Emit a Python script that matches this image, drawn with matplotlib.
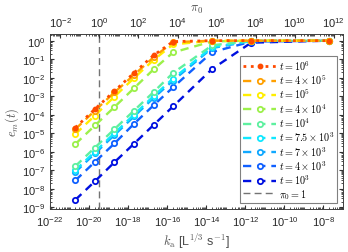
import numpy as np
import matplotlib
matplotlib.use('Agg')
import matplotlib.pyplot as plt
import matplotlib.ticker as ticker

plt.rcParams['font.family'] = ['Liberation Sans', 'DejaVu Sans']
plt.rcParams['mathtext.fontset'] = 'custom'
plt.rcParams['mathtext.rm'] = 'Liberation Sans'
plt.rcParams['mathtext.it'] = 'Liberation Sans:italic'

# ka values (L^1/3 s^-1)
ka = [2e-21, 2e-20, 2e-19, 2e-18, 2e-17, 2e-16, 2e-14, 2e-12, 2e-8]
# conversion factor pi0 = ka * C
C = 10 ** 19.47

labels = [r'$t = 10^6$', r'$t = 4 \times 10^5$', r'$t = 10^5$', r'$t = 4 \times 10^4$',
          r'$t = 10^4$', r'$t = 7.5 \times 10^3$', r'$t = 7 \times 10^3$',
          r'$t = 4 \times 10^3$', r'$t = 10^3$']
colors = ['#ff4a00', '#ffa000', '#ffee00', '#9cf04a', '#5ef0a0', '#10e8ff',
          '#10a8ff', '#1060ff', '#0010e0']

em_1e6 = [2.0e-5, 2.0e-4, 1.9e-3, 1.8e-2, 0.16, 0.89, 1.0, 1.0, 1.0]
em_4e5 = [1.66e-5, 1.66e-4, 1.6e-3, 1.4e-2, 0.126, 0.83, 1.0, 1.0, 1.0]
em_1e5 = [9e-6, 9e-5, 9.5e-4, 9.5e-3, 0.09, 0.63, 0.98, 1.0, 1.0]
em_4e4 = [2.6e-6, 2.6e-5, 2.6e-4, 2.7e-3, 2.8e-2, 0.23, 0.91, 1.0, 1.0]
em_1e4 = [1.66e-7, 1.66e-6, 1.66e-5, 1.66e-4, 1.66e-3, 1.8e-2, 0.56, 0.98, 1.0]
em_75e3 = [1e-7, 1e-6, 1e-5, 1e-4, 1e-3, 8.9e-3, 0.45, 0.98, 1.0]
em_7e3 = [8e-8, 8e-7, 8e-6, 8e-5, 8e-4, 7e-3, 0.4, 0.95, 1.0]
em_4e3 = [2.8e-8, 2.8e-7, 2.8e-6, 3.2e-5, 3.2e-4, 3e-3, 0.24, 0.89, 1.0]
em_1e3 = [2.5e-9, 2.5e-8, 2.7e-7, 2.7e-6, 2.75e-5, 2.8e-4, 2.95e-2, 0.78, 1.0]

series = [em_1e6, em_4e5, em_1e5, em_4e4, em_1e4, em_75e3, em_7e3, em_4e3, em_1e3]

fig = plt.figure(figsize=(3.48, 2.53), dpi=100)
ax = fig.add_axes([50 / 348, 1 - 210 / 253, 293 / 348, 175 / 253])

handles = []
for i in range(len(series) - 1, -1, -1):
    if i == 0:
        h, = ax.plot(ka, series[i], linestyle=':', color=colors[i], lw=2.0,
                     marker='o', ms=3.2, mfc=colors[i], mec=colors[i], zorder=10)
    else:
        h, = ax.plot(ka, series[i], linestyle=(0, (3.5, 2.5)), color=colors[i], lw=1.7,
                     marker='o', ms=3.8, mfc='white', mec=colors[i], mew=1.3,
                     zorder=2 + len(series) - i)
    handles.insert(0, h)

vl = ax.axvline(1 / C, color='0.45', lw=1.0, linestyle=(0, (5, 3)), zorder=1)
handles.append(vl)

ax.set_xscale('log')
ax.set_yscale('log')
ax.set_xlim(1e-22, 1e-7)
ax.set_ylim(10 ** -9.1, 10 ** 0.36)
ax.set_xticks([10.0 ** k for k in range(-22, -7, 2)])
ax.set_yticks([10.0 ** k for k in range(-9, 1)])
ax.xaxis.set_minor_locator(ticker.LogLocator(base=10, subs=np.arange(1, 10), numticks=100))
ax.yaxis.set_minor_locator(ticker.LogLocator(base=10, subs=np.arange(2, 10), numticks=100))
ax.xaxis.set_minor_formatter(ticker.NullFormatter())
ax.yaxis.set_minor_formatter(ticker.NullFormatter())
ax.tick_params(which='both', direction='in', top=False, right=True, colors='0.2',
               labelsize=8, labelcolor='0.15')
ax.tick_params(which='major', length=3)
ax.tick_params(which='minor', length=1.5)
for s in ax.spines.values():
    s.set_color('0.25')
    s.set_linewidth(0.6)

ax.set_xlabel(r'$k_\mathrm{a}$ [L$^{1/3}$ s$^{-1}$]', fontsize=9, color='0.3',
              math_fontfamily='cm', labelpad=2)
ax.set_ylabel(r'$e_m(t)$', fontsize=9, color='0.3', math_fontfamily='cm', labelpad=1)

ax2 = ax.twiny()
ax2.set_xscale('log')
ax2.set_xlim(1e-22 * C, 1e-7 * C)
ax2.set_xticks([10.0 ** k for k in range(-2, 13, 2)])
ax2.xaxis.set_minor_locator(ticker.LogLocator(base=10, subs=np.arange(1, 10), numticks=100))
ax2.xaxis.set_minor_formatter(ticker.NullFormatter())
ax2.tick_params(which='both', direction='in', colors='0.2', labelsize=8, labelcolor='0.15')
ax2.tick_params(which='major', length=3)
ax2.tick_params(which='minor', length=1.5)
ax2.set_xlabel(r'$\pi_0$', fontsize=9, color='0.3', math_fontfamily='cm', labelpad=3)
for s in ax2.spines.values():
    s.set_color('0.25')
    s.set_linewidth(0.6)

leg = ax.legend(handles, labels + [r'$\pi_0 = 1$'], loc='upper right',
                bbox_to_anchor=(0.98, 0.875), borderaxespad=0,
                fancybox=False, framealpha=1, edgecolor='0.5', handlelength=3.3,
                handletextpad=0.3, labelspacing=0.08, borderpad=0.25,
                prop={'size': 7.3, 'math_fontfamily': 'cm'})
leg.set_zorder(20)
leg.get_frame().set_linewidth(0.8)

fig.savefig('out.png', dpi=100)
